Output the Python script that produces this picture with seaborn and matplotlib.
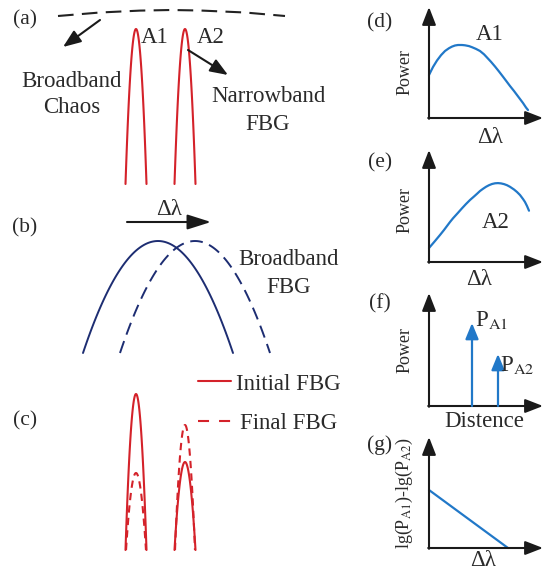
import numpy as np
import matplotlib
matplotlib.use("Agg")
import matplotlib.pyplot as plt
import seaborn as sns

sns.set_theme(style="white")
plt.rcParams["font.family"] = ["Liberation Serif", "DejaVu Serif"]
plt.rcParams["mathtext.fontset"] = "stix"

RED = "#d4222a"
NAVY = "#1d2d72"
BLUE = "#2178c8"
TXT = "#2a2a2a"
FS = 16.5

# ---------------- data (pixel-space schematic values) -------------
# (a) broadband chaos arch: x positions and heights
chaos_x = [58, 100, 140, 171, 200, 245, 285]
chaos_y = [16, 12.5, 10.6, 10, 10.5, 12.5, 16]
# narrowband FBG peaks (a) and (c)
peak_centers = [136, 185]
peak_halfwidth = 10.5
peak_top_a = [29, 29]
peak_base_a = 184
peak_top_c_initial = [394, 462]
peak_top_c_final = [473, 425]
peak_base_c = 550
# (b) broadband FBG (initial solid, shifted dashed)
broad_centers = [158, 195]
broad_halfwidth = 75
broad_top = 241
broad_base = 353
# (d) power of A1 vs delta-lambda
d_x = [429, 433, 437, 441, 445, 449, 452, 455, 458, 462, 465, 469, 472, 476, 480, 484, 487,
       491, 495, 499, 503, 507, 510, 514, 517, 520, 523, 526, 528]
d_y = [75, 67, 60.5, 55.2, 51, 48.2, 46.6, 45.5, 45, 45, 45.3, 46.1, 47.2, 48.9, 51, 54.3, 57.5,
       61.8, 66.5, 71.5, 76.7, 82, 86, 91, 95, 99, 103, 107.5, 110]
# (e) power of A2 vs delta-lambda
e_x = [429, 432, 435, 440, 444, 447, 450, 453, 458, 462, 466, 470, 474, 477, 480, 483, 486, 489,
       492, 495, 498, 501, 504, 507, 510, 514, 517, 520, 523, 525, 527, 529]
e_y = [248, 244.5, 241, 235, 230, 226, 222, 218.3, 212.8, 208.3, 204, 200, 196.5, 193.8, 191,
       188.8, 186.8, 185.2, 184, 183.3, 183.1, 183.4, 184.1, 185.2, 186.8, 189.5, 192, 195,
       199, 202, 206, 210.7]
# (f) peak powers at distance positions
f_x = [472, 498]
f_top = [323, 354]
f_labels = ["P$_{\\rm A1}$", "P$_{\\rm A2}$"]
# (g) lg(PA1)-lg(PA2) vs delta-lambda
g_x = [429, 508]
g_y = [490, 548]

# right-panel axes: origin y and arrow tip y
panel_origin_y = [118, 262, 406, 548]
panel_tip_y = [7, 150, 293, 437]
panel_axis_x = 429
panel_xtip = 543
panel_letters = ["(d)", "(e)", "(f)", "(g)"]
panel_letter_y = [27, 167, 308, 450]

fig = plt.figure(figsize=(5.44, 5.73), dpi=100)
ax = fig.add_axes([0, 0, 1, 1])


def line(xs, ys, color, lw, ls="-"):
    sns.lineplot(x=np.asarray(xs, float), y=np.asarray(ys, float), ax=ax, color=color,
                 lw=lw, linestyle=ls, estimator=None, sort=False)


def arrow(start, tip, color="k", lw=1.5, hl=0.9, hw=0.35):
    ax.annotate("", xy=tip, xytext=start,
                arrowprops=dict(arrowstyle=f"-|>,head_length={hl},head_width={hw}",
                                color=color, lw=lw, shrinkA=0, shrinkB=0))


def parabola(c, hw, top, base):
    xs = np.linspace(c - hw, c + hw, 80)
    ys = top + (base - top) * ((xs - c) / hw) ** 2
    return xs, ys


def text(x, y, s, ha="center", fs=FS, **kw):
    ax.text(x, y, s, ha=ha, va="baseline", fontsize=fs, color=TXT, **kw)


# ---------------- (a) ----------------
line(chaos_x, chaos_y, "#222222", 1.5, (0, (7.5, 4)))
for c, t in zip(peak_centers, peak_top_a):
    xs, ys = parabola(c, peak_halfwidth, t, peak_base_a)
    line(xs, ys, RED, 1.5)
arrow((100, 20), (63, 47))
arrow((188, 50), (228, 75))
text(25, 24, "(a)", fs=15.5)
text(155, 43, "A1")
text(211, 43, "A2")
text(72, 87, "Broadband")
text(72, 113, "Chaos")
text(268, 102, "Narrowband")
text(268, 130, "FBG")

# ---------------- (b) ----------------
arrow((127, 222), (211, 222), hl=1.2, hw=0.38)
text(169, 215, "Δλ")
text(25, 232, "(b)", fs=15.5)
for c, ls in zip(broad_centers, ["-", (0, (6.5, 3.5))]):
    xs, ys = parabola(c, broad_halfwidth, broad_top, broad_base)
    line(xs, ys, NAVY, 1.4, ls)
text(289, 265, "Broadband")
text(289, 293, "FBG")

# ---------------- (c) ----------------
text(25, 425, "(c)", fs=15.5)
for c, t in zip(peak_centers, peak_top_c_initial):
    xs, ys = parabola(c, peak_halfwidth, t, peak_base_c)
    line(xs, ys, RED, 1.5)
for c, t in zip(peak_centers, peak_top_c_final):
    xs, ys = parabola(c, peak_halfwidth * 0.95, t, peak_base_c)
    line(xs, ys, RED, 1.5, (0, (3.5, 2.5)))
line([198, 231], [381, 381], RED, 1.5)
line([198, 231], [421, 421], RED, 1.5, (0, (5.3, 4.8)))
text(236, 390, "Initial FBG", ha="left")
text(240, 429, "Final FBG", ha="left")

# ---------------- right panels: axes ----------------
for oy, ty, lab, ly in zip(panel_origin_y, panel_tip_y, panel_letters, panel_letter_y):
    arrow((panel_axis_x, oy + 0.8), (panel_axis_x, ty))
    arrow((panel_axis_x - 0.8, oy), (panel_xtip, oy))
    text(380, ly, lab, fs=15.5)

# (d)
line(d_x, d_y, BLUE, 1.6)
text(490, 40, "A1")
ax.text(405, 72, "Power", rotation=90, ha="center", va="center", fontsize=13, color=TXT)
text(490, 143, "Δλ")

# (e)
line(e_x, e_y, BLUE, 1.6)
text(496, 228, "A2")
ax.text(405, 210, "Power", rotation=90, ha="center", va="center", fontsize=13, color=TXT)
text(479, 285, "Δλ")

# (f)
for x, t in zip(f_x, f_top):
    arrow((x, panel_origin_y[2]), (x, t), color=BLUE, lw=1.6, hl=0.8, hw=0.33)
text(475, 326, f_labels[0], ha="left")
text(500, 371, f_labels[1], ha="left")
ax.text(405, 350, "Power", rotation=90, ha="center", va="center", fontsize=13, color=TXT)
text(484, 427, "Distence")

# (g)
line(g_x, g_y, BLUE, 1.6)
ax.text(404, 493, "lg(P$_{\\rm A1}$)-lg(P$_{\\rm A2}$)", rotation=90, ha="center", va="center",
        fontsize=13, color=TXT)
text(483, 566, "Δλ")

ax.set_xlim(0, 544)
ax.set_ylim(573, 0)
ax.axis("off")
fig.savefig("out.png", dpi=100, facecolor="white")
